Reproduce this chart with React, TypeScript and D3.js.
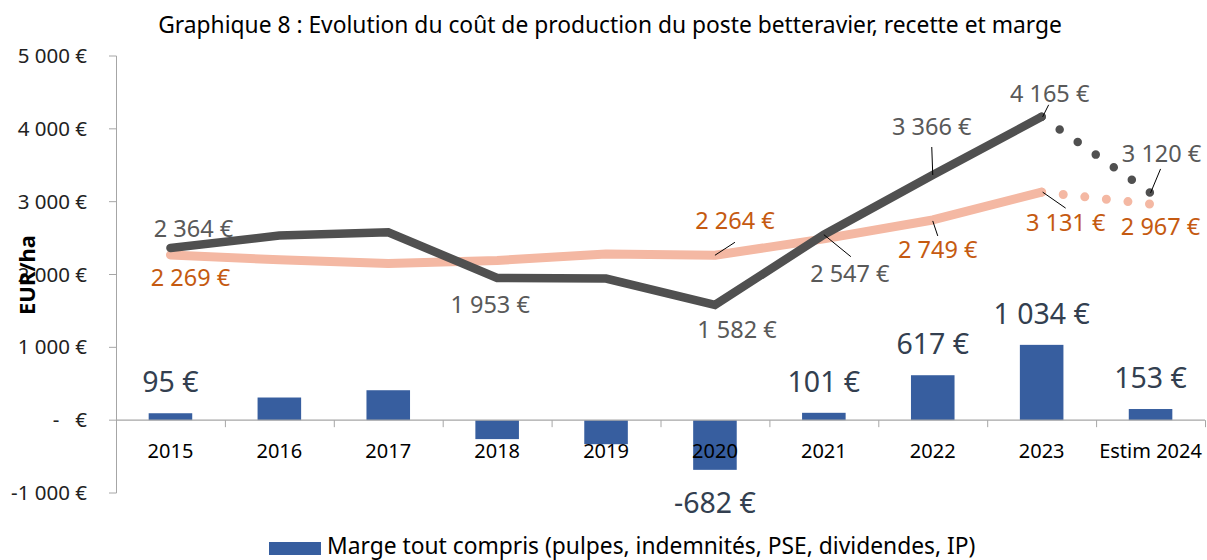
import React from 'react';
import * as d3 from 'd3';

const categories = ['2015', '2016', '2017', '2018', '2019', '2020', '2021', '2022', '2023', 'Estim 2024'];
const cost = [2364, 2534, 2580, 1953, 1945, 1582, 2547, 3366, 4165, 3120];
const recette = [2269, 2201, 2150, 2192, 2283, 2264, 2489, 2749, 3131, 2967];
const marge = [95, 311, 411, -260, -330, -682, 101, 617, 1034, 153];
const yTicks = [-1000, 0, 1000, 2000, 3000, 4000, 5000];

// which points get a value label, with label offsets and optional leader line (layout only)
const costLabels = [
  { i: 0, dx: 23, dy: -11 },
  { i: 3, dx: -7, dy: 35 },
  { i: 5, dx: 22, dy: 33 },
  { i: 6, dx: 26, dy: 47, lead: [0, 0, 27, 22] },
  { i: 7, dx: -1, dy: -40, lead: [0, 0, -1, -28] },
  { i: 8, dx: 8, dy: -15, lead: [1, 0, 7, -12] },
  { i: 9, dx: 11, dy: -31, lead: [0, 0, 10, -24] },
];
const recetteLabels = [
  { i: 0, dx: 20, dy: 31 },
  { i: 5, dx: 20, dy: -26, lead: [0, 0, 20, -13] },
  { i: 7, dx: 5, dy: 38, lead: [0, 1, 5, 16] },
  { i: 8, dx: 24, dy: 39, lead: [1, 0, 24, 16] },
  { i: 9, dx: 10, dy: 31 },
];
const margeLabelIdx = [0, 5, 6, 7, 8, 9];

const W = 1207;
const H = 560;
const FONT = '"Noto Sans", "Open Sans", sans-serif';

const fmt = (v: number) => {
  const s = d3.format(',')(Math.abs(v)).replace(/,/g, ' ');
  return (v < 0 ? '-' : '') + s + ' €';
};

export default function App() {
  const x = d3.scaleBand<string>().domain(categories).range([116, 1205]).paddingInner(0.6).paddingOuter(0.3);
  const y = d3.scaleLinear().domain([-1000, 5000]).range([493, 56]);
  const step = x.step();
  const cx = (i: number) => (x(categories[i]) as number) + x.bandwidth() / 2;

  const line = d3.line<number>().x((_, i) => cx(i)).y(d => y(d));
  const last = categories.length - 1;
  const solid = (arr: number[]) => line(arr.slice(0, last)) as string;
  const dotted = (arr: number[]) =>
    `M${cx(last - 1)},${y(arr[last - 1])}L${cx(last)},${y(arr[last])}`;

  const y0 = y(0);

  return (
    <div style={{ position: 'absolute', left: 0, top: 0 }}>
      <svg width={W} height={H} style={{ display: 'block', fontFamily: FONT }}>
        <rect width={W} height={H} fill="#fff" />
        <text x={610} y={33} textAnchor="middle" fontSize={22.8} fill="#000">
          Graphique 8 : Evolution du coût de production du poste betteravier, recette et marge
        </text>

        {/* y axis */}
        <line x1={116.5} x2={116.5} y1={y(5000)} y2={y(-1000)} stroke="#a6a6a6" strokeWidth={1} />
        {yTicks.map(t => (
          <g key={t}>
            <line x1={109} x2={116.5} y1={y(t)} y2={y(t)} stroke="#a6a6a6" />
            <text x={87} y={y(t) + 7} textAnchor="end" fontSize={20.5} fill="#222" style={{ whiteSpace: 'pre' }}>
              {t === 0 ? '-   €' : fmt(t)}
            </text>
          </g>
        ))}
        <text transform="translate(35,275) rotate(-90)" textAnchor="middle" fontSize={22} fontWeight="bold" fill="#000">
          EUR/ha
        </text>

        {/* bars */}
        {marge.map((v, i) => (
          <rect key={i} x={x(categories[i])} width={x.bandwidth()}
            y={Math.min(y(v), y0)} height={Math.abs(y(v) - y0)} fill="#375e9f" />
        ))}

        {/* category axis */}
        <line x1={116.5} x2={1205} y1={y0} y2={y0} stroke="#a6a6a6" strokeWidth={1.2} />
        {categories.map((c, i) => (
          <line key={'t' + c} x1={116.5 + step * (i + 1)} x2={116.5 + step * (i + 1)} y1={y0} y2={y0 + 7} stroke="#a6a6a6" />
        ))}
        {categories.map((c, i) => (
          <text key={'l' + c} x={cx(i)} y={458} textAnchor="middle" fontSize={20} fill="#000">{c}</text>
        ))}

        {/* lines */}
        <path d={solid(recette)} fill="none" stroke="#f4b8a3" strokeWidth={9} strokeLinecap="round" strokeLinejoin="round" />
        <path d={dotted(recette)} fill="none" stroke="#f4b8a3" strokeWidth={9} strokeLinecap="round" strokeDasharray="0 21.7" />
        <path d={solid(cost)} fill="none" stroke="#505050" strokeWidth={8.5} strokeLinecap="round" strokeLinejoin="miter" />
        <path d={dotted(cost)} fill="none" stroke="#505050" strokeWidth={8.5} strokeLinecap="round" strokeDasharray="0 22" />

        {/* line labels */}
        {costLabels.map(l => {
          const px = cx(l.i), py = y(cost[l.i]);
          return (
            <g key={'c' + l.i}>
              {l.lead && <line x1={px + l.lead[0]} y1={py + l.lead[1]} x2={px + l.lead[2]} y2={py + l.lead[3]} stroke="#000" strokeWidth={1} />}
              <text x={px + l.dx} y={py + l.dy} textAnchor="middle" fontSize={23.5} fill="#595959">{fmt(cost[l.i])}</text>
            </g>
          );
        })}
        {recetteLabels.map(l => {
          const px = cx(l.i), py = y(recette[l.i]);
          return (
            <g key={'r' + l.i}>
              {l.lead && <line x1={px + l.lead[0]} y1={py + l.lead[1]} x2={px + l.lead[2]} y2={py + l.lead[3]} stroke="#000" strokeWidth={1} />}
              <text x={px + l.dx} y={py + l.dy} textAnchor="middle" fontSize={23.5} fill="#c55a11">{fmt(recette[l.i])}</text>
            </g>
          );
        })}

        {/* bar labels */}
        {margeLabelIdx.map(i => {
          const v = marge[i];
          const ty = v >= 0 ? y(v) - 21 : y(v) + 43;
          return (
            <text key={'m' + i} x={cx(i)} y={ty} textAnchor="middle" fontSize={28.5} fill="#333f50">{fmt(v)}</text>
          );
        })}

        {/* legend */}
        <rect x={269} y={542} width={52} height={13} fill="#375e9f" />
        <text x={327} y={554} fontSize={22.8} fill="#000">
          Marge tout compris (pulpes, indemnités, PSE, dividendes, IP)
        </text>
      </svg>
    </div>
  );
}
